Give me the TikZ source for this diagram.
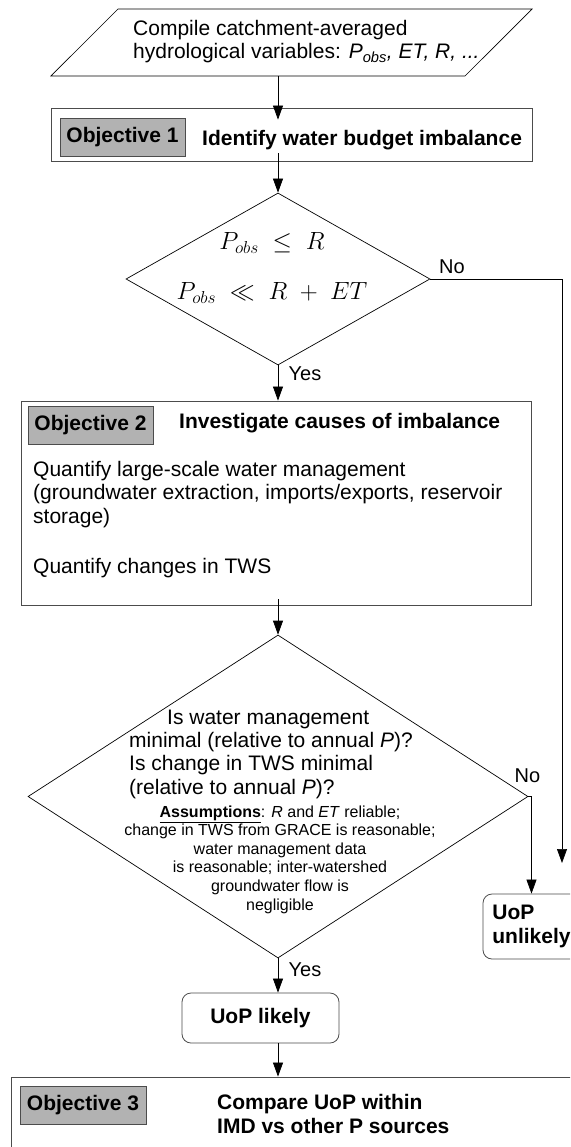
\documentclass[tikz,border=0pt]{standalone}
\usepackage{amsmath, amssymb}
\usepackage{fontspec}
\setmainfont{Liberation Sans}
\usetikzlibrary{shapes.geometric}
\usetikzlibrary{arrows.meta}

\newcommand{\txtbig}{\fontsize{21}{23.2}\selectfont}
\newcommand{\txtsmall}{\fontsize{16}{18.6}\selectfont}
\newcommand{\txtlabel}{\fontsize{20}{23}\selectfont}

\begin{document}
\begin{tikzpicture}[x=1pt, y=-1pt, >={Triangle[length=14pt, width=10pt]},
        box/.style = {rectangle, draw = black!70, line width = 0.8pt, inner sep = 0pt},
        tag/.style = {rectangle, draw = black!70, line width = 0.8pt, fill = gray!60, font = \txtbig\bfseries, inner sep = 0pt, minimum width = 125pt, minimum height = 38pt},
        decision/.style = {diamond, draw, line width = 0.7pt, inner sep = 0pt},
        result/.style = {rectangle, rounded corners = 9pt, draw = black!70, line width = 0.8pt, font = \txtbig\bfseries, inner sep = 0pt},
        txt/.style = {inner sep = 0pt, font = \txtbig},
        flow/.style = {->, line width = 0.7pt}]
        \path [use as bounding box, fill = white] (0,0) rectangle (570,1147);
        \clip (0,0) rectangle (570,1147);

        \begin{scope}
            % input data
            \node [trapezium, trapezium left angle = 45, trapezium right angle = 135, draw, line width = 0.7pt, inner sep = 0pt, text width = 347pt, text height = 67pt, text depth = 0pt] (src) at (291.5,42.5) {};
            \node [txt, align = left, anchor = base west] (srctxt) at (133,59) {Compile catchment-averaged\\hydrological variables: \textit{P}\textsubscript{\textit{obs}}\textit{, ET, R, ...}};

            % objective 1
            \node [box, minimum width = 481pt, minimum height = 53pt] (obj1) at (291.5,134.5) {};
            \node [tag] (tag1) at (122.5,137.5) {Objective 1};
            \node [txt, font = \txtbig\bfseries, anchor = base west] (goal1) at (202,146) {Identify water budget imbalance};

            \node [decision, minimum width = 304pt, minimum height = 172pt] (d1) at (278,279) {};
            \node [txt, align = center, font = \fontsize{25}{50}\selectfont] (test1) at (272,268) {$P_{obs} \;\le\; R$\\$P_{obs} \;\ll\; R \;+\; ET$};
            \node [txt, font = \txtlabel, anchor = base] (no1) at (452,274) {No};
            \node [txt, font = \txtlabel, anchor = base] (yes1) at (305,380) {Yes};
            \coordinate (noend) at (562,863);

            % objective 2
            \node [box, minimum width = 510pt, minimum height = 204pt] (obj2) at (276,503) {};
            \node [tag] (tag2) at (90.5,425) {Objective 2};
            \node [txt, font = \txtbig\bfseries, anchor = base west] (goal2) at (179,428) {Investigate causes of imbalance};
            \node [txt, align = left, anchor = base west] (task2) at (33,573) {Quantify large-scale water management\\(groundwater extraction, imports/exports, reservoir\\storage)\\[26.8pt]Quantify changes in TWS};

            \node [decision, minimum width = 500pt, minimum height = 323pt] (d2) at (278,796.5) {};
            \node [txt, align = left, anchor = base west] (test2) at (129,794) {\hspace*{38pt}Is water management\\minimal (relative to annual \textit{P})?\\Is change in TWS minimal\\(relative to annual \textit{P})?};
            \node [txt, font = \txtsmall, align = center, anchor = base] (assume) at (280,910) {\underline{\textbf{Assumptions}}: \textit{R} and \textit{ET} reliable;\\change in TWS from GRACE is reasonable;\\water management data\\is reasonable; inter-watershed\\groundwater flow is\\negligible};
            \node [txt, font = \txtlabel, anchor = base] (no2) at (527.5,782) {No};
            \node [txt, font = \txtlabel, anchor = base] (yes2) at (305,976) {Yes};

            \node [result, align = left, minimum width = 97pt, minimum height = 65pt] (unl) at (531.5,926.5) {UoP\\unlikely};
            \node [result, minimum width = 157pt, minimum height = 50pt] (lik) at (260.5,1018) {UoP likely};

            % objective 3
            \node [box, minimum width = 600pt, minimum height = 140pt] (obj3) at (311,1147) {};
            \node [tag, minimum width = 126pt] (tag3) at (83,1105) {Objective 3};
            \node [txt, font = \txtbig\bfseries, align = left, anchor = base west] (goal3) at (217,1133) {Compare UoP within\\IMD vs other P sources};

            \draw [flow, shorten > = -12pt] (src.south -| d1) -- (obj1.north -| d1);
            \draw [flow, shorten < = -8pt] (obj1.south -| d1) -- (d1.north);
            \draw [flow] (d1.south) -- (obj2.north -| d1);
            \draw [flow] (d1.east) -| (noend);
            \draw [flow, shorten < = -6pt] (obj2.south -| d2) -- (d2.north);
            \draw [flow] (d2.east) -| (unl.north);
            \draw [flow] (d2.south) -- (lik.north -| d2);
            \draw [flow] (lik.south -| d2) -- (obj3.north -| d2);
        \end{scope}

    \end{tikzpicture}
\end{document}
